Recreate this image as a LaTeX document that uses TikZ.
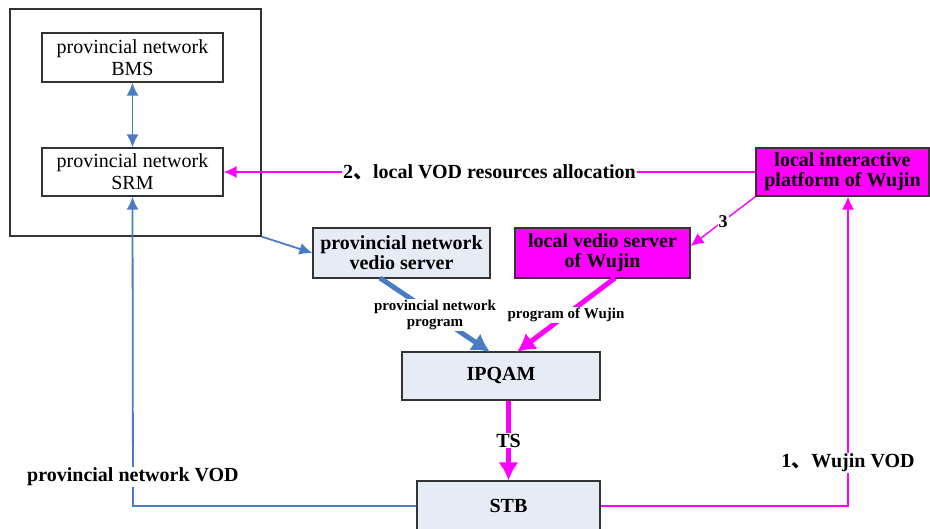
\documentclass[tikz,border=0pt]{standalone}
\usepackage{fontspec}
\setmainfont{Liberation Serif}
\newfontfamily\cjk{Noto Sans CJK SC}
\usepackage{tikz}
\usetikzlibrary{arrows.meta}

\definecolor{netblue}{RGB}{74,124,196}
\definecolor{wjpink}{RGB}{255,0,255}
\definecolor{boxfill}{RGB}{230,236,246}

\begin{document}
\begin{tikzpicture}[x=1pt,y=-1pt]
                \tikzstyle{plain}=[rectangle,draw=black!80,line width=1.2pt,fill=white,align=center,inner sep=0pt,font=\fontsize{20}{22}\selectfont]
                \tikzstyle{server}=[plain,fill=boxfill,font=\fontsize{20}{20}\selectfont\bfseries]
                \tikzstyle{wujin}=[server,fill=wjpink]
                \tikzstyle{tag}=[fill=white,inner sep=1pt,font=\fontsize{20}{22}\selectfont\bfseries]
                \tikzstyle{small}=[fill=white,inner sep=1pt,align=center,font=\fontsize{15}{16}\selectfont\bfseries]
                \tikzstyle{thin blue}=[draw=netblue,line width=1.8pt,-{Latex[length=13pt,width=12pt]}]
                \tikzstyle{thin pink}=[draw=wjpink,line width=1.4pt,-{Latex[length=13pt,width=12pt]}]
                \tikzstyle{fat}=[line width=5pt,-{Latex[length=18pt,width=20pt]}]
                \useasboundingbox (0,0) rectangle (930,529);

                \node[plain,fill=none,minimum width=251pt,minimum height=227pt] (group) at (135.5,122.5) {};
                \node[plain,minimum width=181pt,minimum height=49pt] (bms) at (132.5,57.5) {provincial network\\BMS};
                \node[plain,minimum width=181pt,minimum height=48pt] (srm) at (132.5,172) {provincial network\\SRM};
                \node[wujin,minimum width=173pt,minimum height=48pt] (platform) at (842.5,172) {local interactive\\platform of Wujin};
                \node[server,minimum width=177pt,minimum height=50pt] (pserver) at (401.5,253) {provincial network\\vedio server};
                \node[wujin,minimum width=175pt,minimum height=50pt] (lserver) at (602.5,253) {local vedio server\\of Wujin};
                \node[server,minimum width=198pt,minimum height=48pt] (ipqam) at (501,376) {IPQAM};
                \node[server,minimum width=183pt,minimum height=50pt] (stb) at (508.5,506) {STB};

                \coordinate (vodL) at (133,506);
                \coordinate (vodR) at (848,506);

                \draw[thin blue,{Latex[length=13pt,width=12pt]}-{Latex[length=13pt,width=12pt]}] (bms) -- (srm);
                \draw[thin pink] (platform.west) -- node[tag] {2{\cjk 、}local VOD resources allocation} (srm.east);
                \draw[thin blue] (group.south east) -- (pserver.west);
                \draw[thin pink] (platform.south west) -- node[tag,font=\fontsize{18}{18}\selectfont\bfseries] {3} ([yshift=7pt]lserver.east);

                \draw[fat,draw=netblue] (380,278) -- node[small,pos=0.5] {provincial network\\program} (490,352);
                \draw[fat,draw=wjpink] (615,278) -- node[small,pos=0.5] {program of Wujin} (517,352);
                \draw[fat,draw=wjpink] (ipqam.south -| stb.north) -- node[tag] {TS} (stb.north);

                \draw[thin blue] (stb.west) -- (vodL) -- node[tag,pos=0.094] {provincial network VOD} (srm.south);
                \draw[thin pink] (stb.east) -- (vodR) -- node[tag,pos=0.139] {1{\cjk 、}Wujin VOD} (vodR |- platform.south);
\end{tikzpicture}
\end{document}
